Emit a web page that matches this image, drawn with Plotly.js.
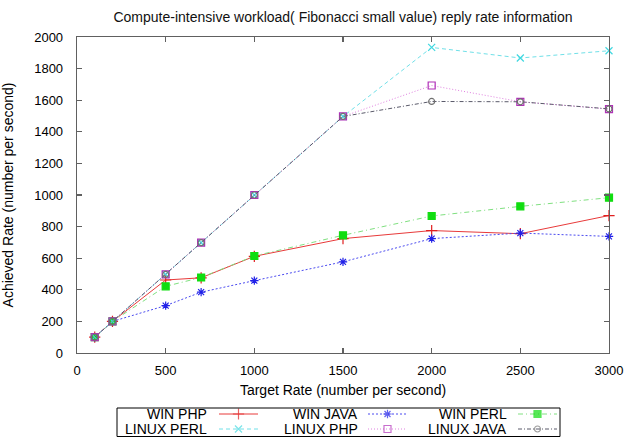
<!DOCTYPE html>
<html>
<head>
<meta charset="utf-8">
<script src="https://cdn.plot.ly/plotly-3.0.1.min.js"></script>
<style>html,body{margin:0;padding:0;background:#fff;}#chart{width:624px;height:437px;}</style>
</head>
<body>
<div id="chart"></div>
<script>
const targetRate = [100, 200, 500, 700, 1000, 1500, 2000, 2500, 3000];
const winPhp    = [100, 200, 462, 476, 612, 724, 775, 755, 870];
const winJava   = [100, 200, 300, 385, 458, 577, 724, 759, 738];
const winPerl   = [100, 200, 422, 478, 614, 745, 867, 928, 983];
const linuxPerl = [100, 200, 497, 698, 1000, 1497, 1934, 1867, 1913];
const linuxPhp  = [100, 200, 497, 698, 1000, 1497, 1693, 1590, 1544];
const linuxJava = [100, 200, 497, 698, 1000, 1497, 1592, 1590, 1545];
const seriesNames = ["WIN PHP", "WIN JAVA", "WIN PERL", "LINUX PERL", "LINUX PHP", "LINUX JAVA"];
const xTicks = [0, 500, 1000, 1500, 2000, 2500, 3000];

const seriesValues = [winPhp, winJava, winPerl, linuxPerl, linuxPhp, linuxJava];
const styles = [
  {color: "#e83a3a", dash: "solid",              symbol: "cross-thin-open", size: 8, mcolor: "#e02020"},
  {color: "#4a4af0", dash: "2px,2px",            symbol: "asterisk-open",   size: 7, mcolor: "#2020e8"},
  {color: "#80e080", dash: "5px,3px,1px,3px",    symbol: "square",          size: 7, mcolor: "#10dd10"},
  {color: "#70e0e8", dash: "4px,3px",            symbol: "x-thin-open",     size: 7, mcolor: "#40d8e0"},
  {color: "#e080e0", dash: "1px,2px",            symbol: "square-open",     size: 7, mcolor: "#b030b8"},
  {color: "#5a5a6a", dash: "4px,2px,1px,2px",    symbol: "circle-open",     size: 6, mcolor: "#707070"}
];

const traces = seriesValues.map((vals, i) => ({
  type: "scatter", mode: "lines+markers", name: seriesNames[i],
  x: targetRate, y: vals, xaxis: "x", yaxis: "y", showlegend: false,
  line: {color: styles[i].color, width: 1, dash: styles[i].dash},
  marker: {symbol: styles[i].symbol, size: styles[i].size, color: styles[i].mcolor,
           line: {color: styles[i].mcolor, width: 1.2}},
  cliponaxis: false
}));

// Custom gnuplot-style legend (text left of sample) on a helper axis pair
const colText = [209, 360, 509];
const colLine = [[219, 258], [368, 407], [518, 557]];
const rowY = [23, 8];
const annotations = [];
seriesNames.forEach((name, i) => {
  const c = i % 3, r = Math.floor(i / 3);
  const [a, b] = colLine[c];
  traces.push({
    type: "scatter", mode: "lines+markers", xaxis: "x2", yaxis: "y2", showlegend: false, hoverinfo: "skip",
    x: [a, (a + b) / 2, b], y: [rowY[r], rowY[r], rowY[r]],
    line: {color: styles[i].color, width: 1, dash: styles[i].dash},
    marker: {symbol: styles[i].symbol, size: [0, styles[i].size, 0], color: styles[i].mcolor,
             line: {color: styles[i].mcolor, width: 1.2}}
  });
  annotations.push({xref: "x2", yref: "y2", x: colText[c], y: rowY[r], text: name, showarrow: false,
    xanchor: "right", yanchor: "middle", font: {family: "Liberation Sans, Arial, sans-serif", size: 14, color: "#000"}});
});

const fontFam = "Liberation Sans, Arial, sans-serif";
const layout = {
  width: 624, height: 437,
  margin: {l: 77, r: 15, t: 37, b: 0},
  paper_bgcolor: "#fff", plot_bgcolor: "#fff",
  font: {family: fontFam, size: 13, color: "#000"},
  title: {text: "Compute-intensive workload( Fibonacci small value) reply rate information",
          font: {family: fontFam, size: 14, color: "#111"}, x: 0.5, xref: "paper", xanchor: "center", y: 0.962, yanchor: "middle"},
  xaxis: {domain: [0, 1], anchor: "y", range: [0, 3000], tickmode: "array", tickvals: xTicks,
          ticktext: xTicks.map(String), ticklabeloverflow: "allow",
          showgrid: false, zeroline: false, showline: true, linecolor: "#606060", linewidth: 1.3, mirror: "ticks",
          ticks: "inside", ticklen: 5, tickcolor: "#606060", tickwidth: 1.3,
          tickfont: {size: 13, family: fontFam}, ticklabelstandoff: 5,
          title: {text: "Target Rate (number per second)", font: {size: 14, family: fontFam}, standoff: 8}},
  yaxis: {domain: [0.21, 1], anchor: "x", range: [0, 2000], dtick: 200, tick0: 0, ticklabeloverflow: "allow",
          showgrid: false, zeroline: false, showline: true, linecolor: "#606060", linewidth: 1.3, mirror: "ticks",
          ticks: "inside", ticklen: 5, tickcolor: "#606060", tickwidth: 1.3,
          tickfont: {size: 13, family: fontFam}, ticklabelstandoff: 10,
          title: {text: "Achieved Rate (number per second)", font: {size: 14, family: fontFam}, standoff: 18}},
  xaxis2: {domain: [0, 1], anchor: "y2", range: [77, 609], visible: false, fixedrange: true},
  yaxis2: {domain: [0, 0.08], anchor: "x2", range: [0, 32], visible: false, fixedrange: true},
  shapes: [{type: "rect", xref: "x2", yref: "y2", x0: 117, x1: 560, y0: 0.5, y1: 29, line: {color: "#000", width: 1}, fillcolor: "rgba(0,0,0,0)"}],
  annotations: annotations,
  showlegend: false
};

Plotly.newPlot("chart", traces, layout, {displayModeBar: false, staticPlot: true});
</script>
</body>
</html>
